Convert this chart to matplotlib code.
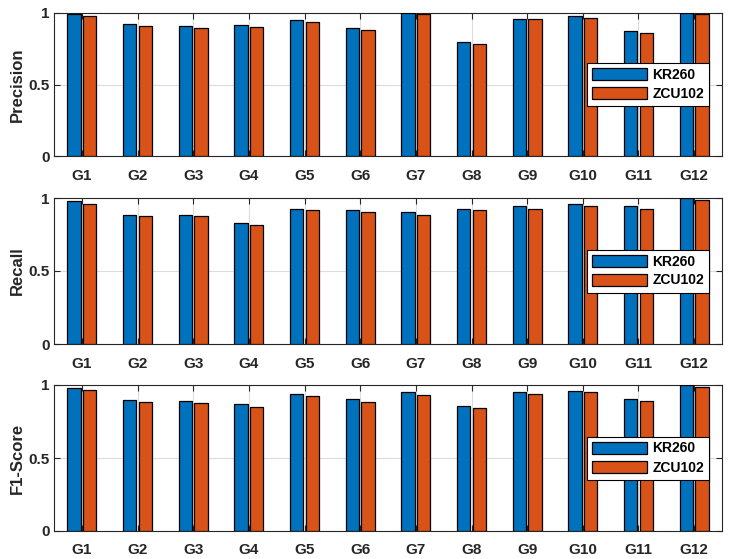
import matplotlib
matplotlib.use("Agg")
import matplotlib.pyplot as plt
import numpy as np

plt.rcParams['font.family'] = ['Liberation Sans', 'DejaVu Sans']

groups = ["G1", "G2", "G3", "G4", "G5", "G6", "G7", "G8", "G9", "G10", "G11", "G12"]
series_names = ["KR260", "ZCU102"]

precision_kr260 = [0.99, 0.92, 0.91, 0.915, 0.95, 0.895, 1.0, 0.795, 0.96, 0.98, 0.874, 1.0]
precision_zcu102 = [0.98, 0.91, 0.895, 0.90, 0.935, 0.88, 0.995, 0.783, 0.955, 0.965, 0.86, 0.995]

recall_kr260 = [0.977, 0.886, 0.886, 0.831, 0.927, 0.918, 0.904, 0.927, 0.947, 0.957, 0.947, 1.0]
recall_zcu102 = [0.959, 0.874, 0.874, 0.815, 0.918, 0.904, 0.886, 0.918, 0.927, 0.947, 0.927, 0.989]

f1_kr260 = [0.98, 0.897, 0.891, 0.868, 0.938, 0.904, 0.95, 0.856, 0.95, 0.961, 0.902, 1.0]
f1_zcu102 = [0.964, 0.886, 0.879, 0.850, 0.923, 0.886, 0.934, 0.843, 0.938, 0.95, 0.891, 0.986]

ylabels = ["Precision", "Recall", "F1-Score"]
data = [(precision_kr260, precision_zcu102), (recall_kr260, recall_zcu102), (f1_kr260, f1_zcu102)]

colors = ["#0072BD", "#D95319"]
W, H = 732, 559
fig = plt.figure(figsize=(W / 100, H / 100), dpi=100)

# pixel boxes (left, top, right, bottom)
boxes = [(54, 13, 722, 156), (54, 198, 722, 344), (54, 385, 722, 531)]

x = np.arange(1, len(groups) + 1)
bw = 0.24
off = 0.14
axcol = "#262626"

for (l, t, r, b), ylab, (s1, s2) in zip(boxes, ylabels, data):
    ax = fig.add_axes([l / W, (H - b) / H, (r - l) / W, (b - t) / H])
    ax.bar(x - off, s1, width=bw, color=colors[0], edgecolor="black", linewidth=0.9, label=series_names[0], zorder=3)
    ax.bar(x + off, s2, width=bw, color=colors[1], edgecolor="black", linewidth=0.9, label=series_names[1], zorder=3)
    ax.set_xlim(0.5, 12.5)
    ax.set_ylim(0, 1)
    ax.set_xticks(x)
    ax.set_xticklabels(groups, fontsize=11, fontweight="bold", color=axcol)
    ax.set_yticks([0, 0.5, 1])
    ax.set_yticklabels(["0", "0.5", "1"], fontsize=11, fontweight="bold", color=axcol)
    ax.set_ylabel(ylab, fontsize=12, fontweight="bold", color=axcol, labelpad=3)
    ax.grid(True, color="#DCDCDC", linewidth=0.8, zorder=0)
    ax.set_axisbelow(True)
    ax.tick_params(direction="in", length=4, width=0.8, color=axcol, top=True, right=True,
                   labeltop=False, labelright=False)
    ax.tick_params(axis="x", pad=9)
    ax.tick_params(axis="y", pad=3)
    for sp in ax.spines.values():
        sp.set_color(axcol)
        sp.set_linewidth(0.8)
    leg = ax.legend(loc="center", bbox_to_anchor=(0.889, 0.50), fontsize=10, frameon=True, fancybox=False,
                    edgecolor="black", framealpha=1, handlelength=4.0, handleheight=1.0,
                    handletextpad=0.36, borderpad=0.36, labelspacing=0.36, borderaxespad=0)
    leg.get_frame().set_linewidth(0.8)
    for txt in leg.get_texts():
        txt.set_fontweight("bold")

fig.savefig("out.png", dpi=100, facecolor="white")
